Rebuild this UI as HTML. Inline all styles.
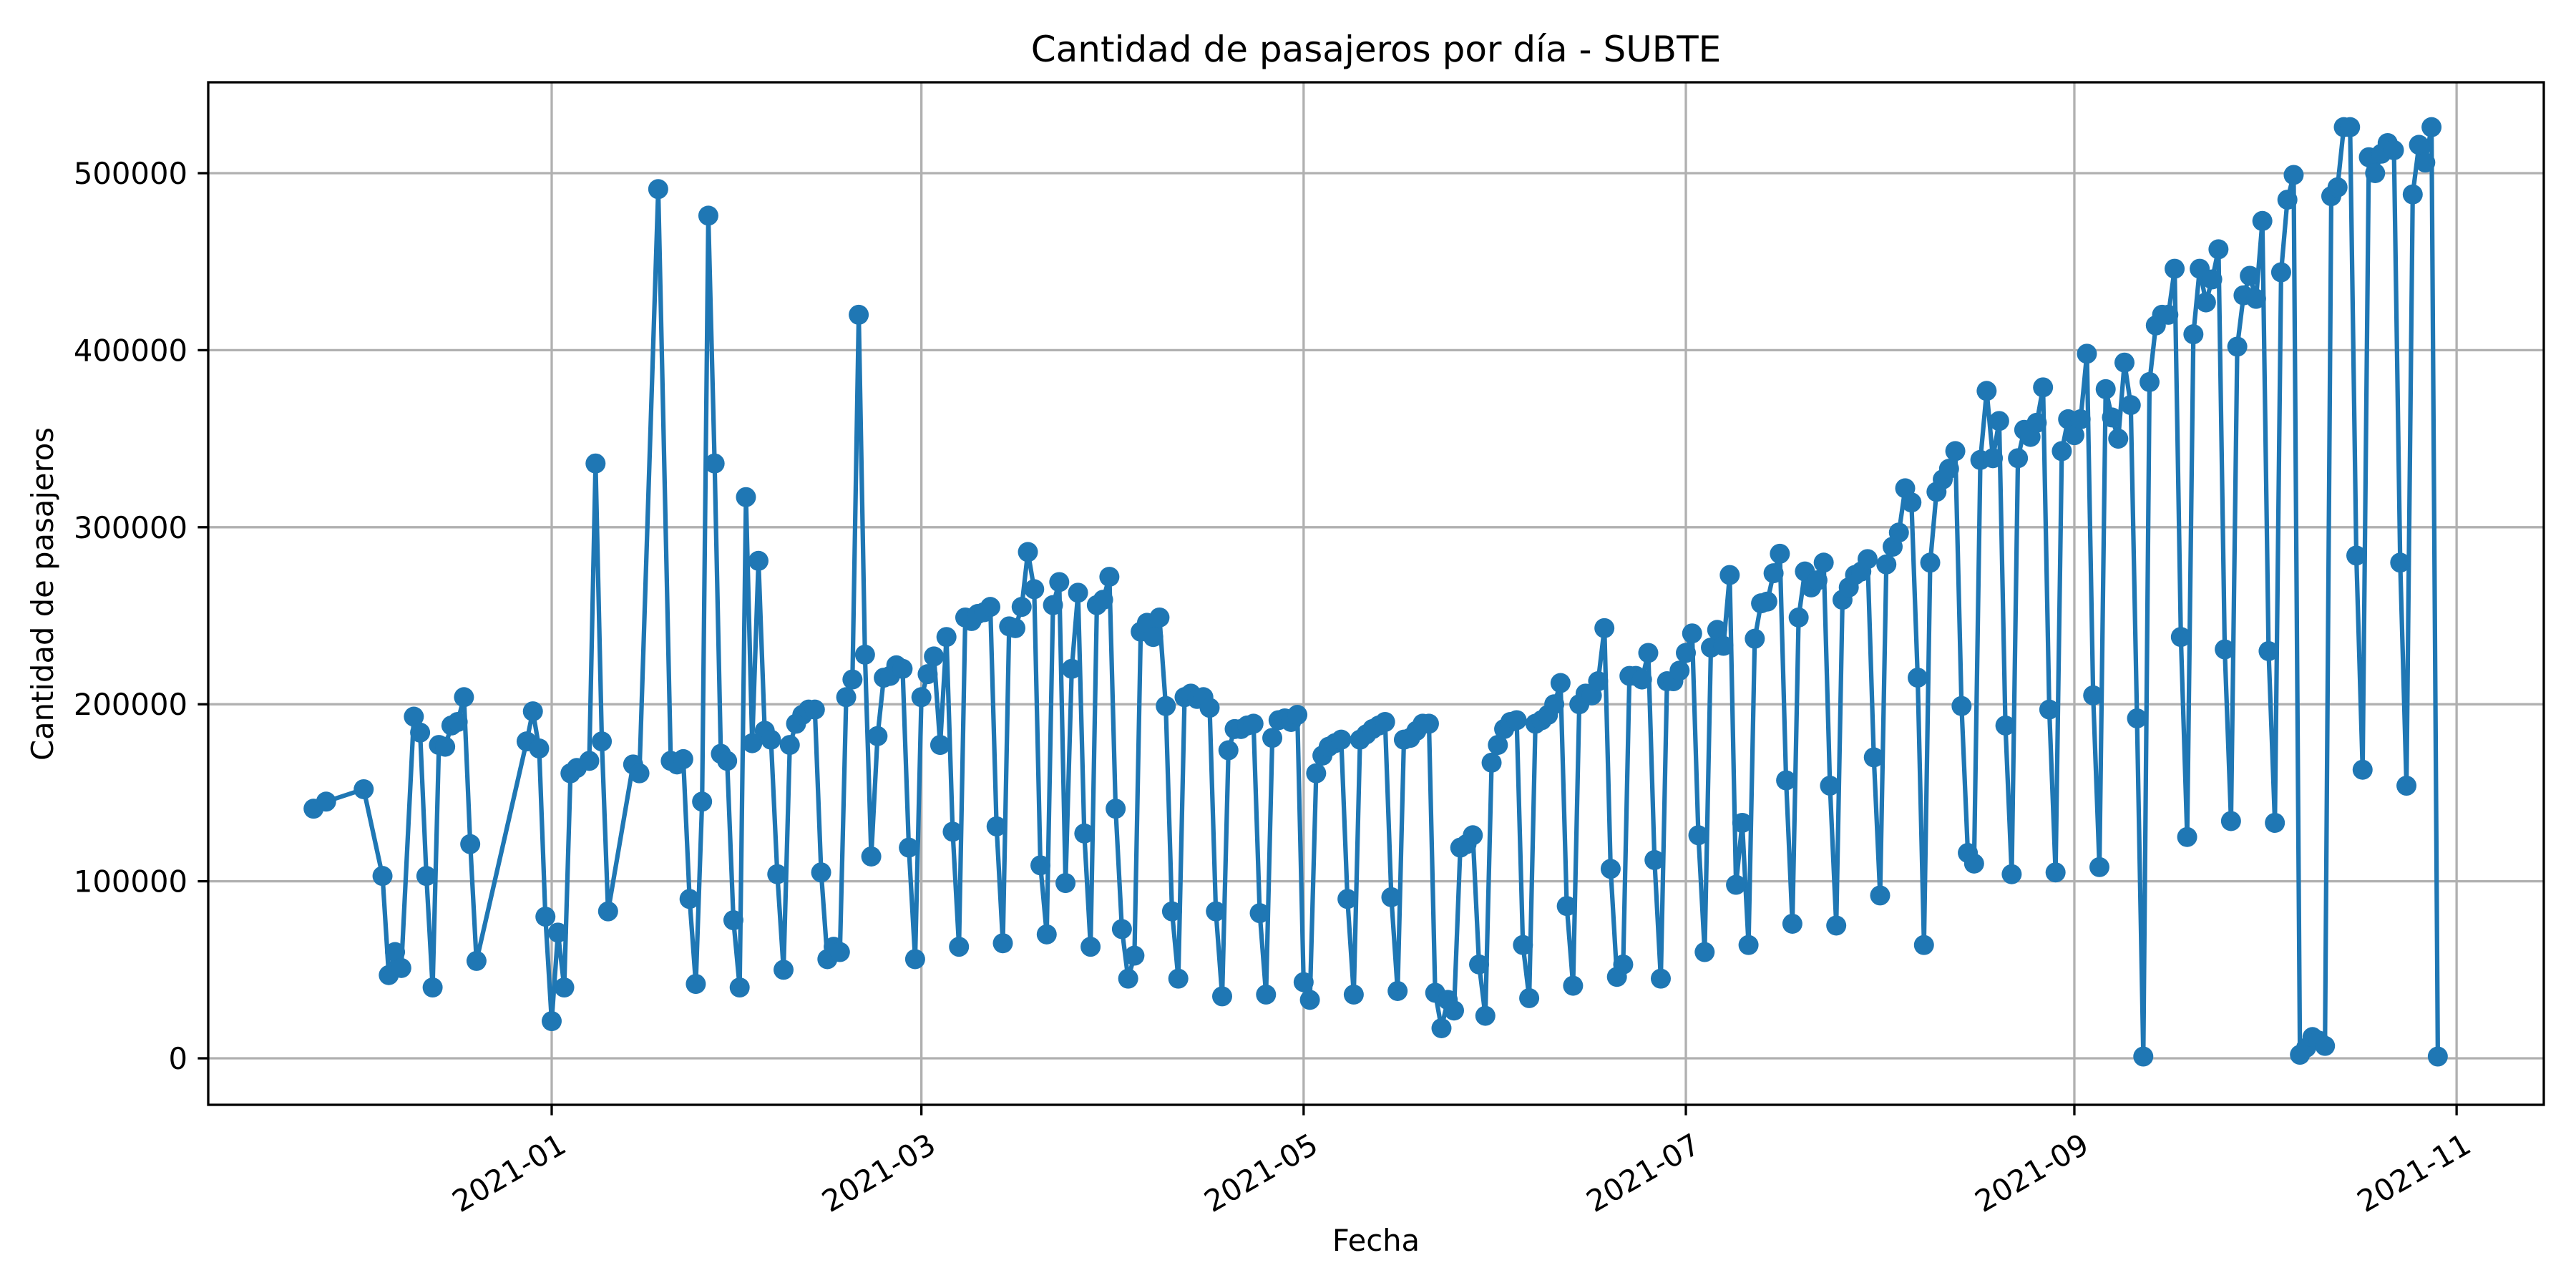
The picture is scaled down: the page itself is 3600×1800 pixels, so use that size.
<!DOCTYPE html>
<html><head><meta charset="utf-8"><style>
html,body{margin:0;padding:0;background:#fff}
svg{display:block}
text{font-family:"DejaVu Sans","Liberation Sans",sans-serif;fill:#000}
</style></head><body>
<svg id="chart" width="3600" height="1800" viewBox="0 0 3600 1800" xmlns="http://www.w3.org/2000/svg">
<rect width="3600" height="1800" fill="#fff"/>
<g id="grid"></g>
<g id="series"></g>
<rect x="291" y="115" width="3264" height="1429" fill="none" stroke="#000" stroke-width="3.3"/>
<g id="axes"></g>
<text x="1923" y="86" font-size="50" text-anchor="middle">Cantidad de pasajeros por día - SUBTE</text>
<text x="1923" y="1748" font-size="41.7" text-anchor="middle">Fecha</text>
<text transform="translate(74,830) rotate(-90)" font-size="41.7" text-anchor="middle">Cantidad de pasajeros</text>
</svg>
<script>
// day offsets from 2021-01-01
const dayIndex=[-38,-36,-30,-27,-26,-25,-24,-22,-21,-20,-19,-18,-17,-16,-15,-14,-13,-12,-4,-3,-2,-1,0,1,2,3,4,6,7,8,9,13,14,17,19,20,21,22,23,24,25,26,27,28,29,30,31,32,33,34,35,36,37,38,39,40,41,42,43,44,45,46,47,48,49,50,51,52,53,54,55,56,57,58,59,60,61,62,63,64,65,66,67,68,69,70,71,72,73,74,75,76,77,78,79,80,81,82,83,84,85,86,87,88,89,90,91,92,93,94,95,96,97,98,99,100,101,102,103,104,105,106,107,108,109,110,111,112,113,114,115,116,117,118,119,120,121,122,123,124,125,126,127,128,129,130,131,132,133,134,135,136,137,138,139,140,141,142,143,144,145,146,147,148,149,150,151,152,153,154,155,156,157,158,159,160,161,162,163,164,165,166,167,168,169,170,171,172,173,174,175,176,177,178,179,180,181,182,183,184,185,186,187,188,189,190,191,192,193,194,195,196,197,198,199,200,201,202,203,204,205,206,207,208,209,210,211,212,213,214,215,216,217,218,219,220,221,222,223,224,225,226,227,228,229,230,231,232,233,234,235,236,237,238,239,240,241,242,243,244,245,246,247,248,249,250,251,252,253,254,255,256,257,258,259,260,261,262,263,264,265,266,267,268,269,270,271,272,273,274,275,276,277,278,279,280,281,282,283,284,285,286,287,288,289,290,291,292,293,294,295,296,297,298,299,300,301];
const passengers=[141,145,152,103,47,60,51,193,184,103,40,177,176,188,190,204,121,55,179,196,175,80,21,71,40,161,164,168,336,179,83,166,161,491,168,166,169,90,42,145,476,336,172,168,78,40,317,178,281,185,180,104,50,177,189,194,197,197,105,56,63,60,204,214,420,228,114,182,215,216,222,220,119,56,204,217,227,177,238,128,63,249,247,251,252,255,131,65,244,243,255,286,265,109,70,256,269,99,220,263,127,63,256,259,272,141,73,45,58,241,246,238,249,199,83,45,204,206,203,204,198,83,35,174,186,186,188,189,82,36,181,191,192,190,194,43,33,161,171,176,178,180,90,36,180,183,186,188,190,91,38,180,181,185,189,189,37,17,33,27,119,121,126,53,24,167,177,186,190,191,64,34,189,191,194,200,212,86,41,200,206,205,213,243,107,46,53,216,216,214,229,112,45,213,213,219,229,240,126,60,232,242,233,273,98,133,64,237,257,258,274,285,157,76,249,275,266,270,280,154,75,259,266,273,275,282,170,92,279,289,297,322,314,215,64,280,320,327,333,343,199,116,110,338,377,339,360,188,104,339,355,351,359,379,197,105,343,361,352,361,398,205,108,378,362,350,393,369,192,1,382,414,420,420,446,238,125,409,446,427,440,457,231,134,402,431,442,429,473,230,133,444,485,499,2,6,12,10,7,487,492,526,526,284,163,509,500,511,517,513,280,154,488,516,506,526,1].map(v=>v*1000);
const yTicks=[0,100000,200000,300000,400000,500000];
const xTickDays=[0,59,120,181,243,304];
const xTickLabels=["2021-01","2021-03","2021-05","2021-07","2021-09","2021-11"];

const NS="http://www.w3.org/2000/svg";
const L=291,R=3555,T=115,B=1544;
function xs(d){return 771+d*8.757;}
function ys(v){return 1479-v*0.002474;}
function mk(tag,attrs,parent){const e=document.createElementNS(NS,tag);for(const k in attrs)e.setAttribute(k,attrs[k]);parent.appendChild(e);return e;}
const grid=document.getElementById('grid'),axes=document.getElementById('axes'),series=document.getElementById('series');
yTicks.forEach(v=>{
  const y=ys(v);
  const g=mk('line',{x1:L,x2:R,y1:y,y2:y,stroke:'#b0b0b0','stroke-width':3.3},grid);
  
  
  const t=mk('line',{x1:L-14.6,x2:L,y1:y,y2:y,stroke:'#000','stroke-width':3.3},axes);
  
  
  const tx=mk('text',{x:L-29,y:y+15,'font-size':41.7,'text-anchor':'end'},axes);
  tx.textContent=String(v);
  
  
});
xTickDays.forEach((d,i)=>{
  const x=xs(d);
  const g=mk('line',{x1:x,x2:x,y1:T,y2:B,stroke:'#b0b0b0','stroke-width':3.3},grid);
  
  
  const t=mk('line',{x1:x,x2:x,y1:B,y2:B+14.6,stroke:'#000','stroke-width':3.3},axes);
  
  
  const tx=mk('text',{transform:`translate(${x+8},${B+38}) rotate(-30)`,'font-size':41.7,'text-anchor':'end',y:30},axes);
  tx.textContent=xTickLabels[i];
  
  
});
const pts=dayIndex.map((d,i)=>xs(d).toFixed(1)+','+ys(passengers[i]).toFixed(1)).join(' ');
const line=mk('polyline',{points:pts,fill:'none',stroke:'#1f77b4','stroke-width':6.25,'stroke-linejoin':'round','stroke-linecap':'square'},series);


dayIndex.forEach((d,i)=>{
  const c=mk('circle',{cx:xs(d),cy:ys(passengers[i]),r:14,fill:'#1f77b4'},series);
  
  
});
</script>
</body></html>
